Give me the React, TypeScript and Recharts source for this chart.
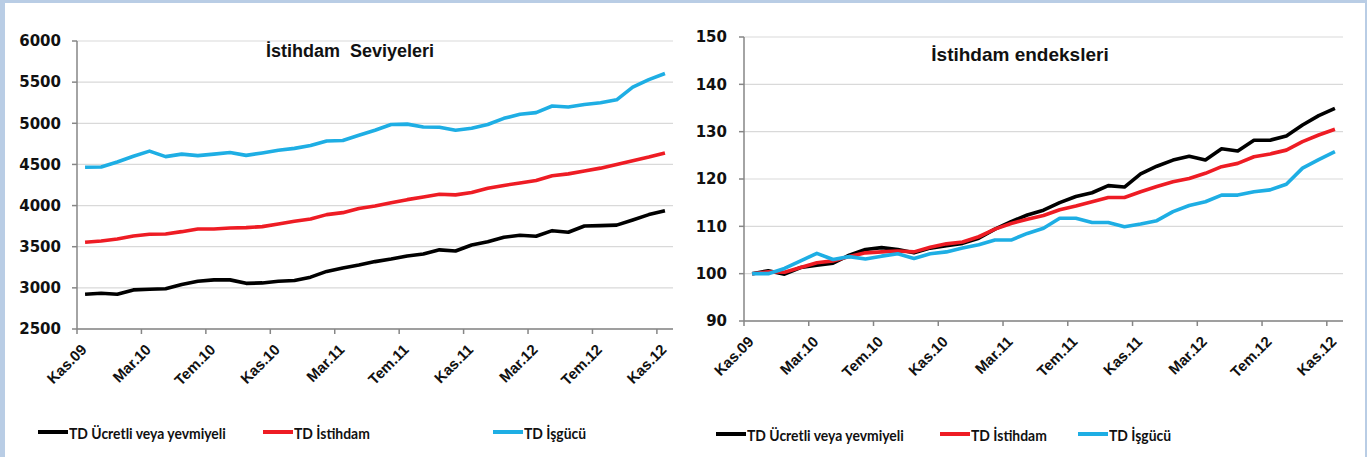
import React from "react";
import { LineChart, Line, XAxis, YAxis, CartesianGrid } from "recharts";

const categories = [
  "Kas.09", "Ara.09",
  "Oca.10", "Şub.10", "Mar.10", "Nis.10", "May.10", "Haz.10", "Tem.10", "Ağu.10", "Eyl.10", "Eki.10", "Kas.10", "Ara.10",
  "Oca.11", "Şub.11", "Mar.11", "Nis.11", "May.11", "Haz.11", "Tem.11", "Ağu.11", "Eyl.11", "Eki.11", "Kas.11", "Ara.11",
  "Oca.12", "Şub.12", "Mar.12", "Nis.12", "May.12", "Haz.12", "Tem.12", "Ağu.12", "Eyl.12", "Eki.12", "Kas.12",
];
const labelIndexes = [0, 4, 8, 12, 16, 20, 24, 28, 32, 36];

const seriesNames = ["TD Ücretli veya yevmiyeli", "TD İstihdam", "TD İşgücü"];
const seriesColors = ["#000000", "#ee1c24", "#1eaee4"];

// Left panel: levels (thousand persons)
const levelWage = [
  2922, 2935, 2922, 2975, 2983, 2990, 3040, 3080, 3097, 3097, 3055, 3060, 3080,
  3090, 3130, 3200, 3242, 3278, 3319, 3351, 3388, 3412, 3462, 3448, 3521, 3560,
  3615, 3640, 3628, 3695, 3676, 3752, 3756, 3762, 3825, 3890, 3938,
];
const levelEmp = [
  3554, 3570, 3594, 3631, 3651, 3655, 3683, 3716, 3716, 3728, 3732, 3744, 3776,
  3809, 3837, 3890, 3914, 3965, 3995, 4034, 4072, 4105, 4138, 4130, 4160, 4210,
  4245, 4275, 4305, 4362, 4385, 4420, 4455, 4500, 4545, 4590, 4640,
];
const levelLab = [
  4465, 4468, 4530, 4600, 4662, 4595, 4625, 4607, 4625, 4645, 4610, 4640, 4672,
  4695, 4730, 4785, 4790, 4855, 4915, 4985, 4990, 4955, 4951, 4915, 4940, 4985,
  5060, 5110, 5130, 5210, 5198, 5228, 5250, 5285, 5440, 5530, 5605,
];
const levelTicks = [2500, 3000, 3500, 4000, 4500, 5000, 5500, 6000];

// Right panel: indexes
const indexWage = [
  100, 100.6, 99.9, 101.3, 101.8, 102.2, 103.9, 105.1, 105.5, 105.1, 104.4, 105.4, 105.9,
  106.4, 107.5, 109.4, 111.0, 112.4, 113.4, 115.0, 116.3, 117.1, 118.6, 118.3, 121.1, 122.7,
  124.0, 124.8, 124.0, 126.4, 125.9, 128.2, 128.2, 129.1, 131.4, 133.4, 134.9,
];
const indexEmp = [
  100, 100.4, 100.3, 101.3, 102.3, 102.7, 103.6, 104.4, 104.6, 104.8, 104.6, 105.6, 106.3,
  106.7, 107.8, 109.4, 110.6, 111.5, 112.3, 113.5, 114.3, 115.2, 116.1, 116.1, 117.3, 118.4,
  119.4, 120.1, 121.2, 122.6, 123.3, 124.7, 125.3, 126.1, 127.9, 129.3, 130.5,
];
const indexLab = [
  100, 100, 101.1, 102.7, 104.3, 103.0, 103.6, 103.1, 103.7, 104.2, 103.2, 104.2, 104.6,
  105.4, 106.1, 107.1, 107.1, 108.5, 109.6, 111.7, 111.7, 110.8, 110.8, 109.9, 110.5, 111.2,
  113.1, 114.4, 115.2, 116.6, 116.6, 117.3, 117.7, 118.9, 122.3, 124.1, 125.8,
];
const indexTicks = [90, 100, 110, 120, 130, 140, 150];

const levelData = categories.map((c, i) => ({ i, c, a: levelWage[i], b: levelEmp[i], d: levelLab[i] }));
const indexData = categories.map((c, i) => ({ i, c, a: indexWage[i], b: indexEmp[i], d: indexLab[i] }));
const xTicks = labelIndexes.map((k) => k - 0.5);

const AXIS = "#868686";
const GRID = "#d9d9d9";
const TICK_FONT = "'Liberation Sans', Arial, sans-serif";
const Y_FONT = "'DejaVu Sans', sans-serif";
const LEGEND_FONT = "Lato, sans-serif";

function makeXTick(band: number) {
  return (props: any) => {
    const { x, y, payload } = props;
    const idx = Math.round(payload.value + 0.5);
    const tx = x + band / 2 + 2.5;
    const ty = y + 14.6;
    return (
      <text
        x={tx}
        y={ty}
        transform={`rotate(-45, ${tx}, ${ty})`}
        textAnchor="end"
        fontFamily={TICK_FONT}
        fontWeight="bold"
        fontSize={15}
        fill="#111"
      >
        {categories[idx]}
      </text>
    );
  };
}

type PanelProps = {
  data: any[];
  left: number;
  width: number;
  margin: { top: number; right: number; bottom: number; left: number };
  yWidth: number;
  domain: [number, number];
  yTicks: number[];
  tickMargin: number;
};

function Panel({ data, left, width, margin, yWidth, domain, yTicks, tickMargin }: PanelProps) {
  const plotW = width - margin.left - margin.right - yWidth;
  const band = plotW / categories.length;
  const keys = ["a", "b", "d"];
  return (
    <div style={{ position: "absolute", left, top: 0 }}>
      <LineChart width={width} height={457} data={data} margin={margin}>
        <CartesianGrid horizontal vertical={false} stroke={GRID} strokeWidth={1.2} />
        <XAxis
          dataKey="i"
          type="number"
          domain={[-0.5, categories.length - 0.5]}
          ticks={xTicks}
          interval={0}
          height={60}
          axisLine={{ stroke: AXIS, strokeWidth: 1.5 }}
          tickLine={{ stroke: AXIS, strokeWidth: 1.5 }}
          tickSize={5}
          tickMargin={2}
          tick={makeXTick(band)}
        />
        <YAxis
          type="number"
          domain={domain}
          ticks={yTicks}
          interval={0}
          width={yWidth}
          axisLine={{ stroke: AXIS, strokeWidth: 1.5 }}
          tickLine={{ stroke: AXIS, strokeWidth: 1.5 }}
          tickSize={5}
          tickMargin={tickMargin}
          tick={{ fontFamily: Y_FONT, fontWeight: "bold", fontSize: 15, fill: "#111" }}
        />
        {keys.map((k, j) => (
          <Line
            key={k}
            type="linear"
            dataKey={k}
            name={seriesNames[j]}
            stroke={seriesColors[j]}
            strokeWidth={3.6}
            strokeLinejoin="round"
            dot={false}
            activeDot={false}
            isAnimationActive={false}
          />
        ))}
      </LineChart>
    </div>
  );
}

function LegendRow({ starts, top }: { starts: number[]; top: number }) {
  return (
    <>
      {seriesNames.map((n, j) => (
        <div
          key={n}
          style={{
            position: "absolute",
            left: starts[j],
            top,
            height: 20,
            display: "flex",
            alignItems: "center",
            whiteSpace: "nowrap",
          }}
        >
          <div style={{ width: 30, height: 3.5, background: seriesColors[j] }} />
          <span
            style={{
              display: "inline-block",
              fontFamily: LEGEND_FONT,
              fontWeight: "bold",
              fontSize: 16,
              color: "#111",
              marginLeft: 1,
              transform: "scaleX(0.87)",
              transformOrigin: "left center",
            }}
          >
            {n}
          </span>
        </div>
      ))}
    </>
  );
}

export default function App() {
  return (
    <div style={{ position: "absolute", left: 0, top: 0, width: 1367, height: 457, background: "#b9cde5", overflow: "hidden" }}>
      <div style={{ position: "absolute", left: 5, top: 3, width: 1360, height: 454, background: "#ffffff" }} />
      <Panel
        data={levelData}
        left={0}
        width={683}
        margin={{ top: 41, right: 10, bottom: 68, left: 17 }}
        yWidth={60}
        domain={[2500, 6000]}
        yTicks={levelTicks}
        tickMargin={11}
      />
      <Panel
        data={indexData}
        left={683}
        width={684}
        margin={{ top: 37, right: 24, bottom: 76, left: 11 }}
        yWidth={50}
        domain={[90, 150]}
        yTicks={indexTicks}
        tickMargin={12}
      />
      <div
        style={{
          position: "absolute",
          left: 200,
          width: 300,
          top: 41,
          textAlign: "center",
          fontFamily: "'Liberation Sans', Arial, sans-serif",
          fontWeight: "bold",
          fontSize: 18,
          color: "#111",
          whiteSpace: "pre",
        }}
      >
        {"İstihdam  Seviyeleri"}
      </div>
      <div
        style={{
          position: "absolute",
          left: 870,
          width: 300,
          top: 44,
          textAlign: "center",
          fontFamily: "'Liberation Sans', Arial, sans-serif",
          fontWeight: "bold",
          fontSize: 19,
          color: "#111",
        }}
      >
        İstihdam endeksleri
      </div>
      <LegendRow starts={[38, 263, 493]} top={422} />
      <LegendRow starts={[716, 940, 1078]} top={424} />
    </div>
  );
}
